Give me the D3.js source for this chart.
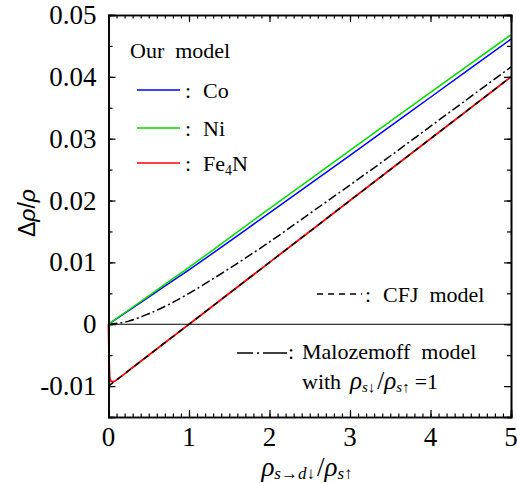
<!DOCTYPE html>
<html>
<head>
<meta charset="utf-8">
<script src="https://cdn.jsdelivr.net/npm/d3@7"></script>
<style>
  body { margin: 0; background: #fff; }
  svg { display: block; }
  text.serif { font-family: "Liberation Serif", "Times New Roman", serif; fill: #000; white-space: pre; }
</style>
</head>
<body>
<div id="chart"></div>
<script>
// values
var xTicks = [0, 1, 2, 3, 4, 5];
var yTicks = [-0.01, 0, 0.01, 0.02, 0.03, 0.04, 0.05];
var yTickLabels = ["-0.01", "0", "0.01", "0.02", "0.03", "0.04", "0.05"];

var coX = [0, 0.5, 1, 2, 3, 4, 5];
var coY = [0, 0.0044, 0.0088, 0.0180, 0.0273, 0.0367, 0.0461];

var niX = [0, 0.5, 1, 2, 3, 4, 5];
var niY = [0, 0.0046, 0.0092, 0.0187, 0.0281, 0.0375, 0.0468];

var fe4nX = [0, 0.005, 0.015, 0.03, 0.06, 0.12, 0.3, 1, 2, 3, 4, 5];
var fe4nY = [0, -0.004, -0.0085, -0.0092, -0.0093, -0.0088, -0.0070, 0, 0.0100, 0.0200, 0.0300, 0.0400];

var cfjX = [0, 5];
var cfjY = [-0.010, 0.040];

var maloX = [0, 0.25, 0.5, 0.75, 1, 1.5, 2, 2.5, 3, 3.5, 4, 4.5, 5];
var maloY = [0, 0.0005, 0.0017, 0.0032, 0.0050, 0.0090, 0.0133, 0.0179, 0.0225, 0.0272, 0.0320, 0.0368, 0.0416];

var W = 517, H = 483;
var margin = { top: 15, right: 6, bottom: 66, left: 108.5 };
var width = W - margin.left - margin.right,
    height = H - margin.top - margin.bottom;

var svg = d3.select("#chart").append("svg")
    .attr("width", W)
    .attr("height", H);

var g = svg.append("g")
    .attr("transform", "translate(" + margin.left + "," + margin.top + ")");

var xScale = d3.scaleLinear().domain([0, 5]).range([0, width]);
var yScale = d3.scaleLinear().domain([-0.015, 0.05]).range([height, 0]);

function zip(xs, ys) {
    return xs.map(function(x, i) { return { x: x, y: ys[i] }; });
}

// zero line
g.append("line")
    .attr("x1", 0).attr("x2", width)
    .attr("y1", yScale(0)).attr("y2", yScale(0))
    .attr("stroke", "#000").attr("stroke-width", 1.2);

var line = d3.line()
    .x(function(d) { return xScale(d.x); })
    .y(function(d) { return yScale(d.y); })
    .curve(d3.curveMonotoneX);

var series = [
    { data: zip(maloX, maloY), color: "#000", dash: "9,3,2,3", w: 1.5 },
    { data: zip(coX, coY), color: "#0000ff", dash: null, w: 1.5 },
    { data: zip(niX, niY), color: "#00dd00", dash: null, w: 1.5 },
    { data: zip(fe4nX, fe4nY), color: "#ff0000", dash: null, w: 1.8 },
    { data: zip(cfjX, cfjY), color: "#000", dash: "6,5", w: 1.5 }
];

g.selectAll(".curve")
    .data(series)
    .enter()
    .append("path")
    .attr("class", "curve")
    .attr("fill", "none")
    .attr("stroke", function(d) { return d.color; })
    .attr("stroke-width", function(d) { return d.w; })
    .attr("stroke-dasharray", function(d) { return d.dash; })
    .attr("d", function(d) { return line(d.data); });

// frame with inward ticks on all four sides
var xMinor = d3.range(0, 5.0001, 0.1);
var yMinor = d3.range(-0.015, 0.05001, 0.005);

g.append("g").attr("transform", "translate(0," + height + ")")
    .call(d3.axisBottom(xScale).tickValues(xMinor).tickSize(-3.5).tickFormat(""));
g.append("g")
    .call(d3.axisTop(xScale).tickValues(xMinor).tickSize(-3.5).tickFormat(""));
g.append("g")
    .call(d3.axisLeft(yScale).tickValues(yMinor).tickSize(-4).tickFormat(""));
g.append("g").attr("transform", "translate(" + width + ",0)")
    .call(d3.axisRight(yScale).tickValues(yMinor).tickSize(-4).tickFormat(""));

g.append("g").attr("transform", "translate(0," + height + ")")
    .call(d3.axisBottom(xScale).tickValues(xTicks).tickSize(-7).tickFormat(""));
g.append("g")
    .call(d3.axisTop(xScale).tickValues(xTicks).tickSize(-7).tickFormat(""));
g.append("g")
    .call(d3.axisLeft(yScale).tickValues(yTicks).tickSize(-7).tickFormat(""));
g.append("g").attr("transform", "translate(" + width + ",0)")
    .call(d3.axisRight(yScale).tickValues(yTicks).tickSize(-7).tickFormat(""));

g.selectAll(".domain").attr("stroke", "#000").attr("stroke-width", 1.6);
g.selectAll(".tick line").attr("stroke", "#000").attr("stroke-width", 1.2);

// tick labels
g.selectAll(".xlab")
    .data(xTicks)
    .enter()
    .append("text")
    .attr("class", "serif")
    .style("font-size", "27px")
    .attr("x", function(d) { return xScale(d); })
    .attr("y", height + 29)
    .attr("text-anchor", "middle")
    .text(function(d) { return d; });

g.selectAll(".ylab")
    .data(yTicks)
    .enter()
    .append("text")
    .attr("class", "serif")
    .style("font-size", "27px")
    .attr("x", -12)
    .attr("y", function(d) { return yScale(d) + 9; })
    .attr("text-anchor", "end")
    .text(function(d, i) { return yTickLabels[i]; });

// y axis title
var yt = svg.append("text")
    .attr("transform", "translate(35,213)rotate(-90)")
    .attr("text-anchor", "middle")
    .style("font-family", "'Liberation Sans', Arial, sans-serif")
    .style("font-size", "23px");
yt.append("tspan").text("\u0394");
yt.append("tspan").style("font-style", "italic").text("\u03c1");
yt.append("tspan").text("/");
yt.append("tspan").style("font-style", "italic").text("\u03c1");

// x axis title
var xt = svg.append("text")
    .attr("class", "serif")
    .attr("x", 307)
    .attr("y", 476)
    .attr("text-anchor", "middle")
    .style("font-style", "italic");
xt.append("tspan").style("font-size", "27px").text("\u03c1");
xt.append("tspan").style("font-size", "17px").attr("dy", 3).text("s\u2192d\u2193");
xt.append("tspan").style("font-size", "27px").style("font-style", "normal").attr("dy", -3).attr("dx", 2).text("/");
xt.append("tspan").style("font-size", "27px").text("\u03c1");
xt.append("tspan").style("font-size", "17px").attr("dy", 3).text("s\u2191");

// legend
var legendSize = "22px";
svg.append("text").attr("class", "serif").style("font-size", legendSize)
    .attr("x", 130).attr("y", 58).text("Our  model");

var legendItems = [
    { color: "#0000ff", label: "Co", y: 90 },
    { color: "#00dd00", label: "Ni", y: 128 },
    { color: "#ff0000", label: "Fe", sub: "4", rest: "N", y: 163 }
];

legendItems.forEach(function(d) {
    svg.append("line")
        .attr("x1", 137).attr("x2", 180)
        .attr("y1", d.y).attr("y2", d.y)
        .attr("stroke", d.color).attr("stroke-width", 1.5);
    svg.append("text").attr("class", "serif").style("font-size", legendSize)
        .attr("x", 185).attr("y", d.y + 8).text(":");
    var t = svg.append("text").attr("class", "serif").style("font-size", legendSize)
        .attr("x", 203).attr("y", d.y + 8);
    t.append("tspan").text(d.label);
    if (d.sub) {
        t.append("tspan").style("font-size", "14px").attr("dy", 4).text(d.sub);
        t.append("tspan").attr("dy", -4).text(d.rest);
    }
});

svg.append("line")
    .attr("x1", 317).attr("x2", 362)
    .attr("y1", 294).attr("y2", 294)
    .attr("stroke", "#000").attr("stroke-width", 1.5)
    .attr("stroke-dasharray", "6,5");
svg.append("text").attr("class", "serif").style("font-size", legendSize)
    .attr("x", 365).attr("y", 302).text(":");
svg.append("text").attr("class", "serif").style("font-size", legendSize)
    .attr("x", 383).attr("y", 302).text("CFJ  model");

svg.append("line")
    .attr("x1", 237).attr("x2", 287)
    .attr("y1", 353).attr("y2", 353)
    .attr("stroke", "#000").attr("stroke-width", 1.5)
    .attr("stroke-dasharray", "16,4,2,4,24");
svg.append("text").attr("class", "serif").style("font-size", legendSize)
    .attr("x", 288).attr("y", 359).text(":");
svg.append("text").attr("class", "serif").style("font-size", legendSize)
    .attr("x", 302).attr("y", 359).text("Malozemoff  model");

svg.append("text").attr("class", "serif").style("font-size", legendSize)
    .attr("x", 302).attr("y", 389).text("with");
var w2 = svg.append("text").attr("class", "serif").style("font-size", legendSize)
    .attr("x", 350).attr("y", 389);
w2.append("tspan").style("font-style", "italic").style("font-size", "25px").text("\u03c1");
w2.append("tspan").style("font-style", "italic").style("font-size", "15px").attr("dy", 3).text("s\u2193");
w2.append("tspan").style("font-size", "25px").attr("dy", -3).attr("dx", 2).text("/");
w2.append("tspan").style("font-style", "italic").style("font-size", "25px").text("\u03c1");
w2.append("tspan").style("font-style", "italic").style("font-size", "15px").attr("dy", 3).text("s\u2191");
w2.append("tspan").attr("dy", -3).attr("dx", 5).text("=1");
</script>
</body>
</html>
